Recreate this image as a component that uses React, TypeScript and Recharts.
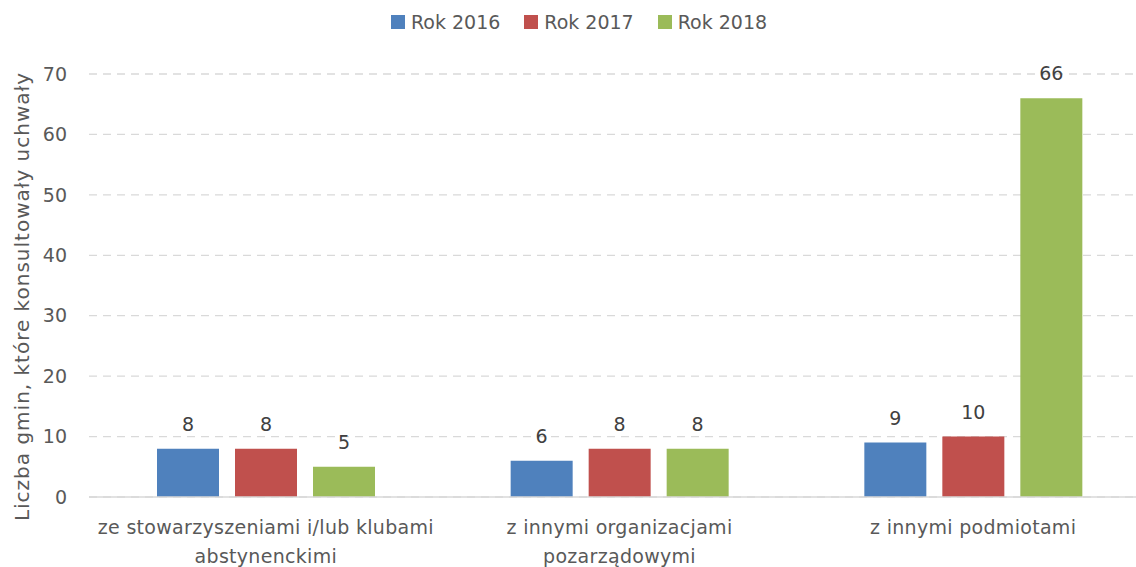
import React from "react";
import { BarChart, Bar, XAxis, YAxis, CartesianGrid, LabelList } from "recharts";

const categories = [
  "ze stowarzyszeniami i/lub klubami abstynenckimi",
  "z innymi organizacjami pozarządowymi",
  "z innymi podmiotami",
];
const tickLines = [
  ["ze stowarzyszeniami i/lub klubami", "abstynenckimi"],
  ["z innymi organizacjami", "pozarządowymi"],
  ["z innymi podmiotami"],
];
const rok2016 = [8, 6, 9];
const rok2017 = [8, 8, 10];
const rok2018 = [5, 8, 66];
const seriesNames = ["Rok 2016", "Rok 2017", "Rok 2018"];
const seriesKeys = ["r2016", "r2017", "r2018"];
const colors = ["#4F81BD", "#C0504D", "#9BBB59"];
const yTicks = [0, 10, 20, 30, 40, 50, 60, 70];
const yTitle = "Liczba gmin, które konsultowały uchwały";

const data = categories.map((name, i) => ({
  name,
  r2016: rok2016[i],
  r2017: rok2017[i],
  r2018: rok2018[i],
}));

const FONT = "'DejaVu Sans', sans-serif";

const CategoryTick = (props: any) => {
  const { x, y, payload } = props;
  const idx = categories.indexOf(payload.value);
  const lines = idx >= 0 ? tickLines[idx] : [payload.value];
  return (
    <g>
      {lines.map((line: string, i: number) => (
        <text
          key={i}
          x={x}
          y={y + 37 + i * 29}
          textAnchor="middle"
          fill="#595959"
          fontSize={19}
          letterSpacing={0.3}
          fontFamily={FONT}
        >
          {line}
        </text>
      ))}
    </g>
  );
};

const YTitle = (props: any) => {
  const vb = props.viewBox;
  const cx = vb.x + 22;
  const cy = vb.y + vb.height / 2 + 11;
  return (
    <text
      x={cx}
      y={cy}
      transform={`rotate(-90, ${cx}, ${cy})`}
      textAnchor="middle"
      dominantBaseline="central"
      fill="#595959"
      fontSize={20}
      letterSpacing={1}
      fontFamily={FONT}
    >
      {yTitle}
    </text>
  );
};

export default function App() {
  return (
    <div
      style={{
        position: "absolute",
        left: 0,
        top: 0,
        width: 1136,
        height: 567,
        overflow: "hidden",
        background: "#fff",
        fontFamily: FONT,
      }}
    >
      <div
        style={{
          position: "absolute",
          top: 10,
          left: 0,
          width: 1158,
          display: "flex",
          justifyContent: "center",
          alignItems: "center",
          lineHeight: "24px",
        }}
      >
        {seriesNames.map((s, i) => (
          <div
            key={s}
            style={{
              display: "flex",
              alignItems: "center",
              marginRight: i < seriesNames.length - 1 ? 24 : 0,
            }}
          >
            <span
              style={{
                display: "inline-block",
                width: 14,
                height: 14,
                background: colors[i],
                marginRight: 6,
              }}
            />
            <span style={{ fontSize: 19, color: "#595959" }}>{s}</span>
          </div>
        ))}
      </div>
      <BarChart
        width={1150}
        height={567}
        data={data}
        margin={{ top: 74, right: 0, left: 0, bottom: 0 }}
        barGap={16}
      >
        <CartesianGrid
          vertical={false}
          stroke="#d9d9d9"
          strokeWidth={1.3}
          strokeDasharray="8 6"
        />
        <XAxis
          dataKey="name"
          height={70}
          tickLine={false}
          tickSize={0}
          tickMargin={0}
          axisLine={{ stroke: "#d9d9d9", strokeWidth: 1.3 }}
          tick={<CategoryTick />}
          interval={0}
        />
        <YAxis
          width={89}
          domain={[0, 70]}
          ticks={yTicks}
          axisLine={false}
          tickLine={false}
          tickSize={0}
          tickMargin={22}
          tick={{ fill: "#595959", fontSize: 19, fontFamily: FONT }}
          label={{ content: <YTitle /> }}
        />
        {seriesKeys.map((k, i) => (
          <Bar
            key={k}
            dataKey={k}
            name={seriesNames[i]}
            fill={colors[i]}
            barSize={62}
            isAnimationActive={false}
          >
            <LabelList
              dataKey={k}
              position="top"
              offset={18}
              fill="#404040"
              fontSize={19}
              fontFamily={FONT}
            />
          </Bar>
        ))}
      </BarChart>
    </div>
  );
}
